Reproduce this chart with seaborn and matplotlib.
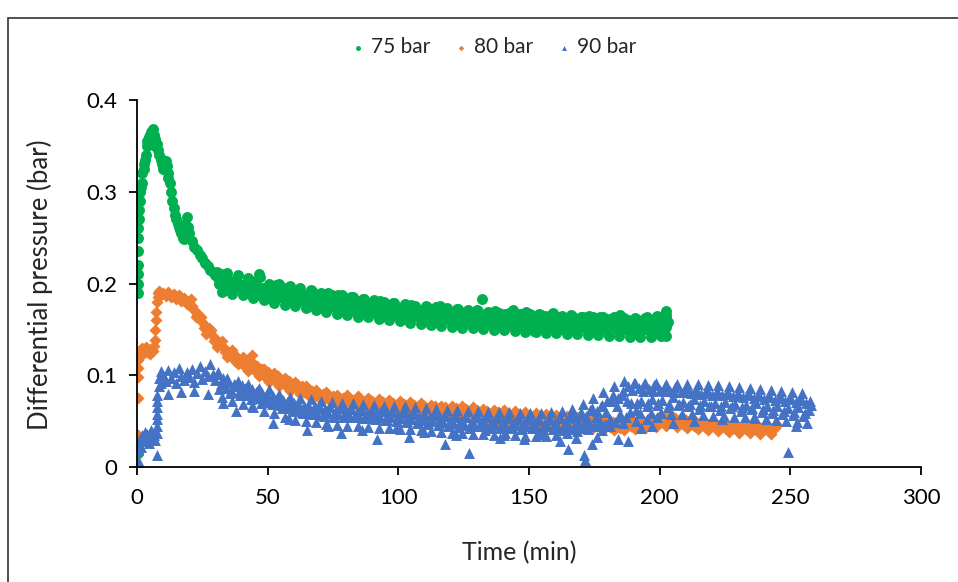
import numpy as np
import pandas as pd
import matplotlib
matplotlib.use("Agg")
import matplotlib.pyplot as plt
from matplotlib.patches import Rectangle
import seaborn as sns

# --- adatok ---
series_names = ["75 bar", "80 bar", "90 bar"]
colors = ["#00B050", "#ED7D31", "#4472C4"]
markers = ["o", "D", "^"]

x_ticks = [0, 50, 100, 150, 200, 250, 300]
y_ticks = [0, 0.1, 0.2, 0.3, 0.4]
y_tick_labels = ["0", "0.1", "0.2", "0.3", "0.4"]

# 75 bar: induló szakasz (egyedi időpontok)
t75_early = [0.3, 0.3, 0.3, 0.3, 0.3, 0.5, 0.5, 0.5, 0.8, 0.8, 1.2, 1.2, 1.6, 2.0, 2.0,
             2.5, 2.5, 3.0, 3.5, 4.0, 4.0, 4.5, 5.0, 5.0, 5.5, 6.0, 6.0, 6.5, 7.0, 7.0,
             7.5, 8.0, 8.5, 9.0, 9.5, 10.0, 10.0, 10.5, 11.0, 11.5, 12.0, 12.0, 12.5,
             13.0, 13.5, 14.0, 14.5, 15.0, 15.5, 16.0, 16.5, 17.0, 17.5, 18.0, 18.0,
             18.5, 19.0, 19.0, 19.5, 20.0]
dp75_early = [0.015, 0.19, 0.20, 0.21, 0.22, 0.235, 0.25, 0.26, 0.27, 0.28, 0.29, 0.30,
              0.305, 0.31, 0.32, 0.325, 0.33, 0.335, 0.34, 0.35, 0.355, 0.36, 0.355,
              0.362, 0.365, 0.368, 0.36, 0.362, 0.358, 0.35, 0.352, 0.345, 0.34, 0.335,
              0.33, 0.335, 0.325, 0.33, 0.333, 0.328, 0.32, 0.315, 0.31, 0.30, 0.29,
              0.282, 0.275, 0.27, 0.265, 0.262, 0.258, 0.255, 0.25, 0.26, 0.248, 0.265,
              0.272, 0.255, 0.262, 0.255]
# 75 bar: 21. perctől percenként
t75_start = 21
dp75 = [0.246, 0.240, 0.236, 0.231, 0.228, 0.222, 0.219, 0.215, 0.213, 0.209,
        0.206, 0.210, 0.203, 0.199, 0.205, 0.197, 0.202, 0.196, 0.200, 0.193,
        0.198, 0.191, 0.197, 0.203, 0.192, 0.188, 0.207, 0.195, 0.189, 0.194,
        0.186, 0.193, 0.198, 0.185, 0.191, 0.184, 0.195, 0.182, 0.190, 0.186,
        0.181, 0.194, 0.183, 0.188, 0.179, 0.187, 0.192, 0.178, 0.185, 0.181,
        0.176, 0.186, 0.190, 0.177, 0.183, 0.174, 0.188, 0.179, 0.172, 0.182,
        0.176, 0.185, 0.171, 0.180, 0.175, 0.169, 0.183, 0.174, 0.178, 0.170,
        0.177, 0.168, 0.181, 0.172, 0.166, 0.176, 0.170, 0.179, 0.167, 0.173,
        0.165, 0.175, 0.169, 0.163, 0.177, 0.168, 0.172, 0.164, 0.170, 0.166,
        0.174, 0.162, 0.168, 0.171, 0.163, 0.176, 0.165, 0.161, 0.170, 0.164,
        0.168, 0.160, 0.172, 0.166, 0.159, 0.169, 0.163, 0.167, 0.158, 0.171,
        0.162, 0.183, 0.165, 0.157, 0.168, 0.161, 0.170, 0.159, 0.164, 0.156,
        0.167, 0.162, 0.158, 0.171, 0.160, 0.155, 0.166, 0.161, 0.169, 0.157,
        0.163, 0.148, 0.160, 0.167, 0.156, 0.165, 0.159, 0.154, 0.168, 0.161,
        0.157, 0.164, 0.150, 0.162, 0.158, 0.166, 0.155, 0.161, 0.153, 0.163,
        0.159, 0.156, 0.165, 0.152, 0.160, 0.157, 0.163, 0.154, 0.150, 0.161,
        0.156, 0.162, 0.153, 0.159, 0.166, 0.155, 0.151, 0.160, 0.157, 0.152,
        0.161, 0.155, 0.149, 0.158, 0.163, 0.154, 0.160, 0.152, 0.165, 0.156,
        0.150, 0.162, 0.158]
# 75 bar: félperces köztes minták (30.5 perctől)
t75b_start = 30.5
dp75_b = [0.213, 0.199, 0.191, 0.205, 0.211, 0.197, 0.189, 0.203, 0.209, 0.195,
          0.188, 0.200, 0.206, 0.192, 0.184, 0.197, 0.210, 0.190, 0.182, 0.195,
          0.200, 0.186, 0.179, 0.192, 0.199, 0.185, 0.177, 0.190, 0.197, 0.183,
          0.175, 0.188, 0.195, 0.181, 0.173, 0.186, 0.193, 0.179, 0.171, 0.184,
          0.190, 0.176, 0.169, 0.182, 0.188, 0.174, 0.167, 0.181, 0.187, 0.173,
          0.166, 0.179, 0.185, 0.172, 0.164, 0.177, 0.183, 0.170, 0.163, 0.176,
          0.182, 0.168, 0.161, 0.174, 0.180, 0.167, 0.160, 0.173, 0.179, 0.166,
          0.159, 0.171, 0.178, 0.165, 0.157, 0.170, 0.176, 0.163, 0.156, 0.168,
          0.175, 0.162, 0.155, 0.167, 0.174, 0.161, 0.154, 0.166, 0.173, 0.160,
          0.153, 0.165, 0.172, 0.159, 0.152, 0.164, 0.171, 0.158, 0.151, 0.164,
          0.170, 0.157, 0.150, 0.163, 0.169, 0.156, 0.149, 0.162, 0.168, 0.156,
          0.149, 0.161, 0.168, 0.155, 0.148, 0.161, 0.167, 0.154, 0.147, 0.160,
          0.167, 0.154, 0.147, 0.160, 0.166, 0.153, 0.146, 0.159, 0.166, 0.153,
          0.146, 0.158, 0.165, 0.152, 0.145, 0.158, 0.165, 0.152, 0.145, 0.157,
          0.164, 0.151, 0.144, 0.157, 0.164, 0.151, 0.144, 0.156, 0.163, 0.150,
          0.143, 0.156, 0.163, 0.150, 0.143, 0.156, 0.162, 0.149, 0.142, 0.155,
          0.162, 0.149, 0.142, 0.155, 0.162, 0.149, 0.142, 0.155, 0.162, 0.149,
          0.143, 0.156, 0.162]
t75_end = [202.5, 202.5, 202.5, 202.5]
dp75_end = [0.143, 0.153, 0.166, 0.170]

# 80 bar
t80_early = [0.2, 0.2, 0.2, 0.2, 0.2, 0.2, 0.6, 0.6, 1.0, 1.5, 2.0, 2.5, 3.0, 3.5, 4.0,
             4.5, 5.0, 5.5, 6.0, 6.5, 7.0, 7.0, 7.3, 7.3, 7.6, 8.0, 8.0, 8.5, 9.0]
dp80_early = [0.0, 0.035, 0.075, 0.098, 0.108, 0.117, 0.12, 0.125, 0.128, 0.122, 0.13,
              0.124, 0.127, 0.131, 0.125, 0.128, 0.123, 0.129, 0.126, 0.132, 0.138,
              0.149, 0.16, 0.169, 0.18, 0.19, 0.185, 0.192, 0.188]
t80_start = 10
dp80 = [0.190, 0.186, 0.191, 0.185, 0.189, 0.183, 0.187, 0.181, 0.184, 0.178,
        0.180, 0.175, 0.171, 0.166, 0.162, 0.158, 0.154, 0.150, 0.147, 0.143,
        0.139, 0.136, 0.133, 0.131, 0.127, 0.125, 0.122, 0.120, 0.121, 0.116,
        0.114, 0.117, 0.111, 0.113, 0.122, 0.108, 0.110, 0.104, 0.107, 0.101,
        0.103, 0.098, 0.100, 0.096, 0.099, 0.093, 0.095, 0.091, 0.094, 0.089,
        0.091, 0.087, 0.084, 0.088, 0.082, 0.085, 0.080, 0.083, 0.078, 0.081,
        0.077, 0.080, 0.075, 0.078, 0.074, 0.077, 0.073, 0.076, 0.072, 0.075,
        0.071, 0.074, 0.070, 0.073, 0.069, 0.072, 0.068, 0.071, 0.070, 0.067,
        0.072, 0.068, 0.070, 0.066, 0.071, 0.067, 0.069, 0.065, 0.070, 0.066,
        0.068, 0.064, 0.069, 0.065, 0.067, 0.063, 0.068, 0.064, 0.066, 0.062,
        0.067, 0.063, 0.065, 0.061, 0.066, 0.062, 0.064, 0.060, 0.065, 0.061,
        0.063, 0.059, 0.064, 0.060, 0.062, 0.058, 0.063, 0.059, 0.061, 0.057,
        0.062, 0.058, 0.060, 0.056, 0.061, 0.057, 0.059, 0.055, 0.060, 0.056,
        0.058, 0.054, 0.059, 0.055, 0.057, 0.053, 0.058, 0.054, 0.056, 0.052,
        0.057, 0.053, 0.055, 0.051, 0.056, 0.052, 0.054, 0.050, 0.055, 0.051,
        0.053, 0.049, 0.054, 0.050, 0.052, 0.048, 0.053, 0.049, 0.051, 0.047,
        0.052, 0.048, 0.050, 0.046, 0.051, 0.047, 0.049, 0.045, 0.050, 0.046,
        0.048, 0.044, 0.049, 0.045, 0.047, 0.043, 0.048, 0.044, 0.046, 0.045,
        0.047, 0.043, 0.048, 0.044, 0.049, 0.045, 0.050, 0.046, 0.051, 0.047,
        0.053, 0.049, 0.055, 0.050, 0.054, 0.049, 0.053, 0.048, 0.052, 0.047,
        0.051, 0.046, 0.050, 0.045, 0.049, 0.044, 0.048, 0.045, 0.047, 0.043,
        0.048, 0.044, 0.046, 0.042, 0.047, 0.043, 0.045, 0.041, 0.046, 0.042,
        0.044, 0.040, 0.045, 0.041, 0.043, 0.046, 0.042, 0.044, 0.040, 0.043,
        0.045, 0.041, 0.044, 0.040, 0.043, 0.046]
# 80 bar: félperces köztes minták (20.5 perctől)
t80b_start = 20.5
dp80_b = [0.183, 0.172, 0.163, 0.167, 0.163, 0.151, 0.145, 0.151, 0.149, 0.137,
          0.131, 0.136, 0.137, 0.125, 0.120, 0.125, 0.127, 0.116, 0.112, 0.117,
          0.120, 0.109, 0.105, 0.110, 0.113, 0.103, 0.099, 0.104, 0.107, 0.097,
          0.093, 0.099, 0.102, 0.092, 0.088, 0.093, 0.097, 0.087, 0.083, 0.089,
          0.093, 0.084, 0.080, 0.085, 0.088, 0.079, 0.076, 0.081, 0.084, 0.076,
          0.073, 0.079, 0.082, 0.074, 0.070, 0.076, 0.079, 0.071, 0.068, 0.073,
          0.079, 0.071, 0.067, 0.073, 0.077, 0.069, 0.065, 0.071, 0.075, 0.067,
          0.063, 0.069, 0.074, 0.066, 0.062, 0.068, 0.073, 0.065, 0.061, 0.067,
          0.072, 0.064, 0.060, 0.066, 0.071, 0.063, 0.059, 0.065, 0.070, 0.062,
          0.057, 0.064, 0.068, 0.061, 0.056, 0.063, 0.067, 0.060, 0.056, 0.062,
          0.067, 0.059, 0.055, 0.061, 0.066, 0.058, 0.054, 0.060, 0.065, 0.057,
          0.052, 0.059, 0.063, 0.056, 0.051, 0.058, 0.062, 0.055, 0.050, 0.057,
          0.062, 0.054, 0.050, 0.056, 0.061, 0.053, 0.049, 0.055, 0.060, 0.052,
          0.048, 0.054, 0.059, 0.051, 0.047, 0.053, 0.058, 0.050, 0.046, 0.052,
          0.057, 0.049, 0.045, 0.051, 0.056, 0.048, 0.044, 0.050, 0.055, 0.047,
          0.043, 0.049, 0.054, 0.046, 0.042, 0.048, 0.052, 0.045, 0.040, 0.046,
          0.051, 0.044, 0.040, 0.046, 0.051, 0.044, 0.040, 0.046, 0.052, 0.045,
          0.041, 0.047, 0.053, 0.046, 0.043, 0.049, 0.055, 0.048, 0.044, 0.051,
          0.057, 0.049, 0.045, 0.052, 0.057, 0.049, 0.044, 0.050, 0.054, 0.046,
          0.042, 0.048, 0.053, 0.045, 0.041, 0.047, 0.051, 0.044, 0.040, 0.046,
          0.050, 0.043, 0.039, 0.045, 0.049, 0.042, 0.038, 0.044, 0.048, 0.041,
          0.037, 0.043, 0.048, 0.041, 0.037, 0.043, 0.048, 0.040, 0.036, 0.042,
          0.047, 0.040, 0.036, 0.042, 0.046]

# 90 bar
t90_early = [0.2, 0.2, 0.2, 0.5, 1.0, 1.5, 2.0, 2.5, 3.0, 3.5, 4.0, 4.5, 5.0, 5.5, 6.0,
             6.5, 7.0, 7.5, 7.8, 7.8, 7.8, 7.8, 7.8, 7.8, 7.8, 8.5, 8.5, 9.0, 9.0]
dp90_early = [0.0, 0.008, 0.018, 0.025, 0.030, 0.022, 0.035, 0.028, 0.038, 0.030, 0.036,
              0.026, 0.033, 0.040, 0.031, 0.035, 0.029, 0.037, 0.013, 0.045, 0.052,
              0.058, 0.065, 0.072, 0.078, 0.088, 0.097, 0.105, 0.092]
t90_start = 10
dp90 = [0.100, 0.094, 0.106, 0.097, 0.103, 0.092, 0.108, 0.099, 0.095, 0.104,
        0.098, 0.107, 0.093, 0.102, 0.110, 0.096, 0.105, 0.099, 0.112, 0.101,
        0.095, 0.103, 0.090, 0.097, 0.086, 0.093, 0.084, 0.091, 0.088, 0.082,
        0.089, 0.080, 0.086, 0.078, 0.085, 0.077, 0.083, 0.075, 0.081, 0.073,
        0.079, 0.071, 0.077, 0.069, 0.075, 0.068, 0.073, 0.066, 0.071, 0.064,
        0.070, 0.062, 0.068, 0.060, 0.067, 0.059, 0.065, 0.061, 0.066, 0.058,
        0.064, 0.057, 0.063, 0.059, 0.065, 0.056, 0.062, 0.058, 0.064, 0.055,
        0.061, 0.057, 0.063, 0.054, 0.060, 0.056, 0.062, 0.053, 0.059, 0.055,
        0.061, 0.052, 0.058, 0.055, 0.062, 0.051, 0.057, 0.054, 0.060, 0.050,
        0.057, 0.053, 0.061, 0.049, 0.056, 0.052, 0.059, 0.048, 0.055, 0.051,
        0.058, 0.047, 0.054, 0.050, 0.060, 0.046, 0.053, 0.049, 0.057, 0.045,
        0.052, 0.048, 0.056, 0.044, 0.051, 0.047, 0.055, 0.043, 0.050, 0.046,
        0.054, 0.045, 0.050, 0.047, 0.055, 0.043, 0.049, 0.046, 0.053, 0.042,
        0.050, 0.045, 0.054, 0.043, 0.049, 0.046, 0.052, 0.041, 0.048, 0.045,
        0.053, 0.042, 0.049, 0.044, 0.051, 0.040, 0.048, 0.045, 0.052, 0.041,
        0.049, 0.043, 0.055, 0.040, 0.050, 0.044, 0.058, 0.041, 0.053, 0.046,
        0.060, 0.042, 0.056, 0.048, 0.064, 0.045, 0.061, 0.050, 0.068, 0.047,
        0.072, 0.052, 0.078, 0.049, 0.075, 0.058, 0.083, 0.055, 0.088, 0.070,
        0.092, 0.062, 0.086, 0.072, 0.090, 0.066, 0.085, 0.074, 0.089, 0.068,
        0.084, 0.073, 0.088, 0.065, 0.083, 0.076, 0.087, 0.068, 0.082, 0.071,
        0.086, 0.066, 0.081, 0.074, 0.085, 0.063, 0.080, 0.072, 0.084, 0.067,
        0.079, 0.070, 0.083, 0.062, 0.078, 0.071, 0.082, 0.064, 0.077, 0.069,
        0.081, 0.061, 0.076, 0.068, 0.080, 0.063, 0.075, 0.070, 0.079, 0.060,
        0.074, 0.066, 0.078, 0.059, 0.073, 0.067, 0.077, 0.058, 0.072, 0.064,
        0.076, 0.057, 0.071, 0.065, 0.074, 0.056, 0.070, 0.062, 0.068]
# 90 bar: félperces köztes minták (30.5 perctől)
t90b_start = 30.5
dp90_b = [0.101, 0.085, 0.076, 0.093, 0.097, 0.081, 0.072, 0.089, 0.094, 0.078,
          0.069, 0.086, 0.090, 0.074, 0.065, 0.082, 0.086, 0.070, 0.061, 0.077,
          0.085, 0.069, 0.059, 0.075, 0.080, 0.064, 0.055, 0.071, 0.076, 0.061,
          0.051, 0.068, 0.075, 0.059, 0.050, 0.067, 0.074, 0.058, 0.049, 0.066,
          0.072, 0.056, 0.047, 0.065, 0.071, 0.055, 0.046, 0.064, 0.070, 0.054,
          0.045, 0.063, 0.070, 0.054, 0.045, 0.062, 0.069, 0.053, 0.044, 0.061,
          0.068, 0.052, 0.043, 0.061, 0.067, 0.051, 0.042, 0.060, 0.066, 0.050,
          0.041, 0.059, 0.066, 0.050, 0.041, 0.058, 0.065, 0.049, 0.040, 0.057,
          0.064, 0.048, 0.039, 0.057, 0.063, 0.047, 0.038, 0.056, 0.062, 0.046,
          0.037, 0.055, 0.062, 0.046, 0.037, 0.054, 0.061, 0.045, 0.036, 0.054,
          0.061, 0.045, 0.036, 0.054, 0.060, 0.044, 0.035, 0.053, 0.060, 0.044,
          0.035, 0.053, 0.060, 0.044, 0.035, 0.052, 0.059, 0.043, 0.034, 0.052,
          0.059, 0.043, 0.034, 0.052, 0.059, 0.043, 0.034, 0.052, 0.060, 0.044,
          0.035, 0.053, 0.061, 0.045, 0.037, 0.055, 0.063, 0.047, 0.039, 0.057,
          0.069, 0.050, 0.041, 0.062, 0.075, 0.055, 0.045, 0.067, 0.082, 0.060,
          0.049, 0.072, 0.088, 0.066, 0.054, 0.078, 0.094, 0.072, 0.060, 0.084,
          0.092, 0.070, 0.059, 0.083, 0.092, 0.070, 0.059, 0.083, 0.092, 0.070,
          0.059, 0.083, 0.091, 0.069, 0.058, 0.082, 0.091, 0.069, 0.058, 0.082,
          0.091, 0.069, 0.058, 0.082, 0.090, 0.068, 0.057, 0.081, 0.089, 0.067,
          0.056, 0.080, 0.089, 0.067, 0.056, 0.080, 0.088, 0.066, 0.055, 0.079,
          0.087, 0.065, 0.054, 0.078, 0.086, 0.064, 0.053, 0.077, 0.085, 0.063,
          0.052, 0.076, 0.084, 0.062, 0.051, 0.075, 0.083, 0.061, 0.050, 0.074,
          0.082, 0.060, 0.049, 0.073, 0.081, 0.059, 0.048, 0.072]
# 90 bar: kiugró (lefelé) pontok
t90_low = [12, 17, 22, 27, 33, 38, 44, 52, 58, 65, 73, 78, 86, 92, 99, 104, 110, 118,
           122, 127, 133, 139, 141, 148, 155, 162, 165, 168, 171, 171.5, 174, 176, 178,
           181, 184, 186, 188, 191, 193, 195, 197, 199, 205, 213, 224, 236, 249, 252]
dp90_low = [0.080, 0.082, 0.083, 0.080, 0.070, 0.061, 0.066, 0.048, 0.052, 0.040, 0.045,
            0.037, 0.040, 0.030, 0.042, 0.033, 0.038, 0.025, 0.035, 0.015, 0.040, 0.032,
            0.037, 0.030, 0.036, 0.028, 0.020, 0.032, 0.013, 0.008, 0.025, 0.033, 0.040,
            0.045, 0.030, 0.048, 0.028, 0.050, 0.042, 0.052, 0.045, 0.055, 0.048, 0.050,
            0.052, 0.054, 0.016, 0.045]


# --- táblázatok összeállítása ---
def regular(start, values):
    # percenkénti mintavétel: az időpontok a kezdőpercből adódnak
    return list(start + np.arange(len(values))), list(values)


def build(*parts):
    t_all, v_all = [], []
    for t, v in parts:
        t_all += list(t)
        v_all += list(v)
    return pd.DataFrame({"time": t_all, "dp": v_all})


frames = [
    build((t75_early, dp75_early), regular(t75_start, dp75),
          regular(t75b_start, dp75_b), (t75_end, dp75_end)),
    build((t80_early, dp80_early), regular(t80_start, dp80),
          regular(t80b_start, dp80_b)),
    build((t90_early, dp90_early), regular(t90_start, dp90),
          regular(t90b_start, dp90_b), (t90_low, dp90_low)),
]
sizes = [62, 38, 62]

# --- ábra ---
sns.set_style("white")
plt.rcParams["font.family"] = ["Lato", "DejaVu Sans"]

fig = plt.figure(figsize=(9.58, 5.82), dpi=100)
ax = fig.add_axes([137 / 958, 1 - 467 / 582, 784 / 958, 367 / 582])

for df, name, c, m, s in zip(frames, series_names, colors, markers, sizes):
    sns.scatterplot(data=df, x="time", y="dp", ax=ax, color=c, marker=m, s=s,
                    linewidth=0, label=name)

ax.set_xlim(0, 300)
ax.set_ylim(0, 0.4)
ax.set_xticks(x_ticks)
ax.set_yticks(y_ticks)
ax.set_yticklabels(y_tick_labels)
ax.tick_params(axis="both", direction="out", length=6, width=1.3, labelsize=16,
               colors="black", left=True, bottom=True)
ax.tick_params(axis="x", pad=9)
ax.tick_params(axis="y", pad=8)
for side in ["top", "right"]:
    ax.spines[side].set_visible(False)
for side in ["left", "bottom"]:
    ax.spines[side].set_color("black")
    ax.spines[side].set_linewidth(1.3)

ax.set_xlabel("Time (min)", fontsize=18)
ax.set_ylabel("Differential pressure (bar)", fontsize=18.5)
ax.xaxis.set_label_coords((519 - 137) / 784, (467 - 553) / 367)
ax.xaxis.label.set_verticalalignment("center")
ax.yaxis.set_label_coords((40 - 137) / 784, (467 - 285) / 367)
ax.yaxis.label.set_verticalalignment("center")

ax.legend(loc="center", bbox_to_anchor=(493 / 958, 1 - 47 / 582),
          bbox_transform=fig.transFigure, ncol=3, frameon=False, fontsize=15,
          markerscale=0.45, handlelength=0.8, handletextpad=0.25,
          columnspacing=1.05, borderpad=0)

# külső keret
fig.add_artist(Rectangle((8 / 958, -0.1), 1.2, 1.1 - 18 / 582, transform=fig.transFigure,
                         fill=False, edgecolor="#333333", linewidth=1.2))

plt.savefig("out.png", dpi=100)
plt.close()
